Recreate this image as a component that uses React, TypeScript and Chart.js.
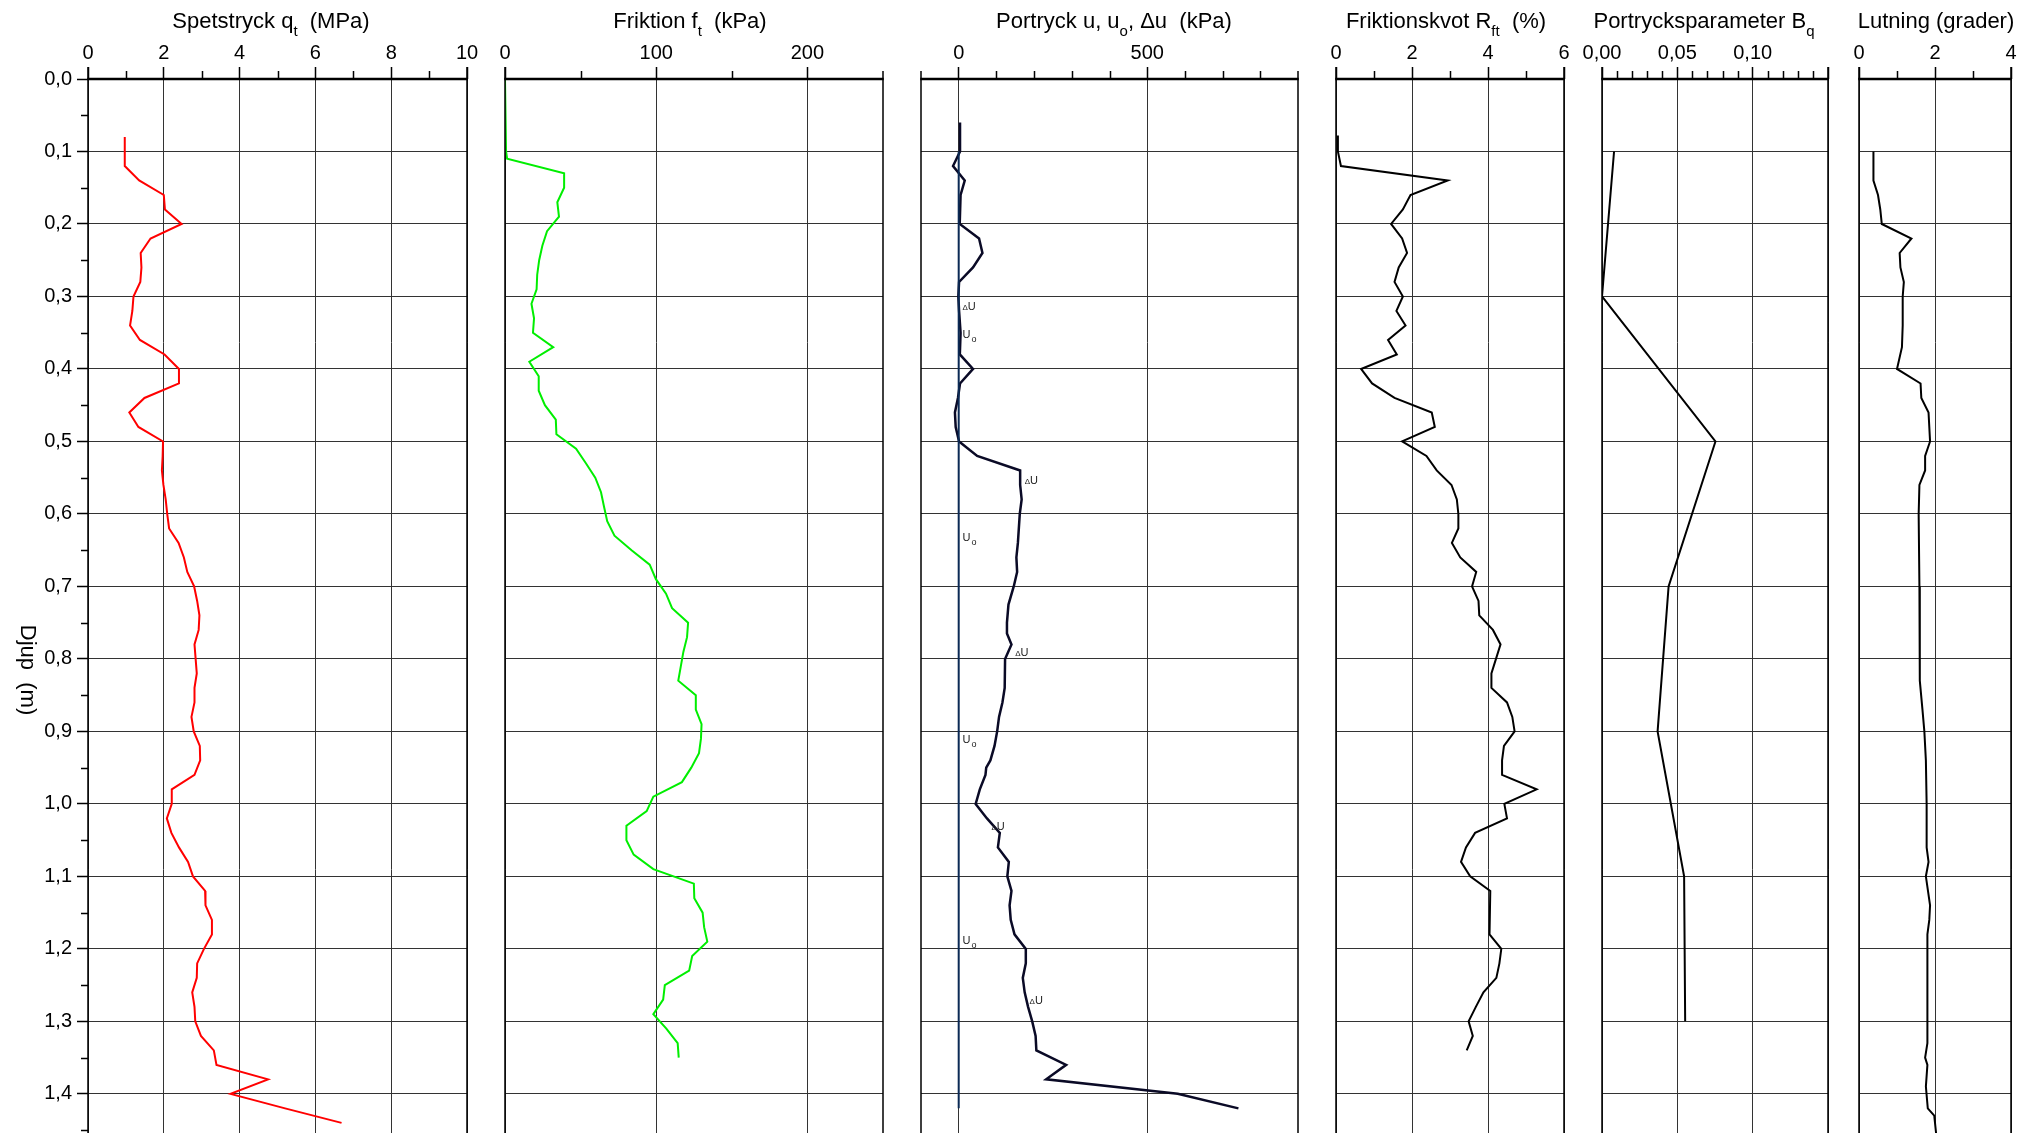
import React, { useEffect, useRef } from "react";
import { Chart, registerables } from "chart.js";
Chart.register(...registerables);

const W = 2031;
const H = 1133;
const TOP = 79;
const DEPTH_MAX = 1.454;
const FONT = "'Liberation Sans', Arial, sans-serif";

// ---------- data ----------
const depthTicks = [0, 0.1, 0.2, 0.3, 0.4, 0.5, 0.6, 0.7, 0.8, 0.9, 1.0, 1.1, 1.2, 1.3, 1.4];
const depthMinor = [0.05, 0.15, 0.25, 0.35, 0.45, 0.55, 0.65, 0.75, 0.85, 0.95, 1.05, 1.15, 1.25, 1.35, 1.45];

const qtDepth = [0.08, 0.12, 0.14, 0.16, 0.18, 0.2, 0.22, 0.24, 0.26, 0.28, 0.3, 0.32, 0.34, 0.36, 0.38, 0.4, 0.42, 0.44, 0.46, 0.48, 0.5, 0.52, 0.54, 0.56, 0.58, 0.6, 0.62, 0.64, 0.66, 0.68, 0.7, 0.72, 0.74, 0.76, 0.78, 0.8, 0.82, 0.84, 0.86, 0.88, 0.9, 0.92, 0.94, 0.96, 0.98, 1.0, 1.02, 1.04, 1.06, 1.08, 1.1, 1.12, 1.14, 1.16, 1.18, 1.2, 1.22, 1.24, 1.26, 1.28, 1.3, 1.32, 1.34, 1.36, 1.38, 1.4, 1.42, 1.44];
const qtMPa = [0.97, 0.97, 1.35, 2.0, 2.03, 2.47, 1.65, 1.39, 1.41, 1.38, 1.2, 1.17, 1.11, 1.37, 2.02, 2.4, 2.4, 1.49, 1.09, 1.33, 1.98, 1.97, 1.95, 1.99, 2.05, 2.09, 2.14, 2.39, 2.53, 2.62, 2.8, 2.88, 2.94, 2.92, 2.81, 2.84, 2.87, 2.81, 2.81, 2.73, 2.79, 2.95, 2.96, 2.81, 2.21, 2.21, 2.08, 2.2, 2.4, 2.64, 2.77, 3.09, 3.1, 3.27, 3.27, 3.06, 2.88, 2.87, 2.75, 2.81, 2.83, 2.98, 3.32, 3.39, 4.75, 3.76, 5.2, 6.69];

const ftDepth = [0.0, 0.1, 0.11, 0.13, 0.15, 0.17, 0.19, 0.21, 0.23, 0.25, 0.27, 0.29, 0.31, 0.33, 0.35, 0.37, 0.39, 0.41, 0.43, 0.45, 0.47, 0.49, 0.51, 0.53, 0.55, 0.57, 0.59, 0.61, 0.63, 0.65, 0.67, 0.69, 0.71, 0.73, 0.75, 0.77, 0.79, 0.81, 0.83, 0.85, 0.87, 0.89, 0.91, 0.93, 0.95, 0.97, 0.99, 1.01, 1.03, 1.05, 1.07, 1.09, 1.11, 1.13, 1.15, 1.17, 1.19, 1.21, 1.23, 1.25, 1.27, 1.29, 1.31, 1.33, 1.35];
const ftKPa = [0, 0.7, 1.4, 39.1, 39.1, 34.6, 35.7, 27.8, 24.7, 22.6, 21.3, 20.9, 17.5, 19.2, 18.5, 31.9, 16.1, 22.3, 22.3, 26.4, 33.6, 34.0, 47.0, 53.5, 59.7, 63.5, 65.5, 67.6, 72.4, 83.7, 95.7, 99.8, 106.5, 110.5, 121.1, 120.4, 118.0, 116.3, 114.6, 126.2, 126.2, 130.0, 129.6, 128.3, 123.2, 117.0, 98.1, 93.7, 80.3, 80.3, 85.1, 98.1, 124.9, 125.2, 130.7, 131.7, 133.8, 123.8, 121.8, 105.7, 104.6, 98.1, 106.7, 114.2, 114.9];

const uDepth = [0.06, 0.1, 0.12, 0.14, 0.16, 0.2, 0.22, 0.24, 0.26, 0.28, 0.3, 0.32, 0.35, 0.38, 0.4, 0.42, 0.44, 0.46, 0.48, 0.5, 0.52, 0.54, 0.56, 0.58, 0.6, 0.64, 0.66, 0.68, 0.7, 0.725, 0.75, 0.765, 0.78, 0.8, 0.84, 0.86, 0.88, 0.9, 0.92, 0.94, 0.95, 0.96, 0.98, 1.0, 1.02, 1.04, 1.06, 1.08, 1.1, 1.12, 1.14, 1.16, 1.18, 1.2, 1.22, 1.24, 1.26, 1.28, 1.3, 1.32, 1.34, 1.36, 1.38, 1.4, 1.42];
const uKPa = [3.5, 3.5, -15, 16, 5, 2.7, 54, 63, 38, 1, -1, 1, 5, 3, 38, 3.5, -2, -10, -8, 1, 49, 163, 163, 167, 162, 157, 153, 155, 146, 132, 128, 128, 140, 123, 122, 116, 107, 102, 95, 84, 73, 71, 56, 45, 75, 109, 104, 133, 129, 140, 135, 138, 148, 178, 178, 170, 175, 184, 195, 204, 206, 285, 232, 581, 742];
const u0Depth = [0.1, 1.42];
const u0KPa = [0, 0];

const duLabelDepth = [0.313, 0.553, 0.791, 1.031, 1.271];
const duLabelKPa = [10, 175, 150, 87, 188];
const uoLabelDepth = [0.354, 0.634, 0.913, 1.191];
const uoLabelKPa = [10, 10, 10, 10];

const rfDepth = [0.078, 0.1, 0.12, 0.14, 0.16, 0.18, 0.2, 0.22, 0.24, 0.26, 0.28, 0.3, 0.32, 0.34, 0.36, 0.38, 0.4, 0.42, 0.44, 0.46, 0.48, 0.5, 0.52, 0.54, 0.56, 0.58, 0.6, 0.62, 0.64, 0.66, 0.68, 0.7, 0.72, 0.74, 0.76, 0.78, 0.8, 0.82, 0.84, 0.86, 0.88, 0.9, 0.92, 0.94, 0.96, 0.98, 1.0, 1.02, 1.04, 1.06, 1.08, 1.1, 1.12, 1.18, 1.2, 1.22, 1.24, 1.26, 1.28, 1.3, 1.32, 1.34];
const rfPct = [0.05, 0.05, 0.13, 2.94, 1.96, 1.76, 1.45, 1.74, 1.87, 1.65, 1.54, 1.76, 1.59, 1.83, 1.37, 1.6, 0.66, 0.95, 1.54, 2.52, 2.6, 1.74, 2.38, 2.65, 3.04, 3.18, 3.22, 3.22, 3.05, 3.27, 3.69, 3.58, 3.75, 3.77, 4.13, 4.33, 4.21, 4.09, 4.09, 4.5, 4.64, 4.7, 4.42, 4.37, 4.37, 5.28, 4.43, 4.5, 3.66, 3.42, 3.29, 3.53, 4.06, 4.04, 4.35, 4.3, 4.22, 3.88, 3.68, 3.49, 3.6, 3.44];

const bqDepth = [0.1, 0.3, 0.5, 0.7, 0.9, 1.1, 1.3];
const bqValue = [0.008, 0.0, 0.0753, 0.0442, 0.0369, 0.0545, 0.0552];

const lutDepth = [0.1, 0.14, 0.16, 0.18, 0.2, 0.22, 0.24, 0.26, 0.28, 0.3, 0.34, 0.37, 0.4, 0.42, 0.44, 0.46, 0.5, 0.52, 0.54, 0.56, 0.6, 0.7, 0.8, 0.83, 0.87, 0.9, 0.94, 1.0, 1.06, 1.08, 1.1, 1.14, 1.16, 1.18, 1.3, 1.33, 1.35, 1.36, 1.39, 1.42, 1.43, 1.46];
const lutDeg = [0.38, 0.38, 0.5, 0.56, 0.6, 1.38, 1.07, 1.09, 1.18, 1.15, 1.15, 1.13, 1.0, 1.62, 1.64, 1.83, 1.87, 1.74, 1.74, 1.59, 1.57, 1.59, 1.6, 1.6, 1.67, 1.72, 1.76, 1.78, 1.78, 1.83, 1.76, 1.87, 1.85, 1.8, 1.8, 1.8, 1.74, 1.8, 1.76, 1.81, 1.98, 2.04];

// tick values per panel
const qtMajor = [0, 2, 4, 6, 8, 10];
const qtMinor = [1, 3, 5, 7, 9];
const ftMajor = [0, 100, 200];
const ftMinor = [50, 150];
const uMajor = [0, 500];
const uMinor = [100, 200, 300, 400, 600, 700, 800];
const rfMajor = [0, 2, 4, 6];
const rfMinor = [1, 3, 5];
const bqMajor = [0, 0.05, 0.1, 0.15];
const bqMinor = [0.01, 0.02, 0.03, 0.04, 0.06, 0.07, 0.08, 0.09, 0.11, 0.12, 0.13, 0.14];
const lutMajor = [0, 2, 4];
const lutMinor = [1, 3];

// titles (text, subscript flag)
const qtTitle: [string, boolean][] = [["Spetstryck q", false], ["t", true], ["  (MPa)", false]];
const ftTitle: [string, boolean][] = [["Friktion f", false], ["t", true], ["  (kPa)", false]];
const uTitle: [string, boolean][] = [["Portryck u, u", false], ["o", true], [", \u0394u  (kPa)", false]];
const rfTitle: [string, boolean][] = [["Friktionskvot R", false], ["ft", true], ["  (%)", false]];
const bqTitle: [string, boolean][] = [["Portrycksparameter B", false], ["q", true]];
const lutTitle: [string, boolean][] = [["Lutning (grader)", false]];
const yTitle = "Djup  (m)";

const zip = (d: number[], v: number[]) => d.map((y, i) => ({ x: v[i], y }));

type Series = { data: { x: number; y: number }[]; color: string; width: number };
type Panel = {
  left: number; right: number; min: number; max: number;
  majors: number[]; minors: number[]; hidden: number[];
  fmt: (v: number) => string; title: [string, boolean][]; titleCenter: number;
  series: Series[]; notes?: boolean;
};

const intFmt = (v: number) => String(v);
const PANELS: Panel[] = [
  { left: 88, right: 467, min: 0, max: 10, majors: qtMajor, minors: qtMinor, hidden: [], fmt: intFmt, title: qtTitle, titleCenter: 271,
    series: [{ data: zip(qtDepth, qtMPa), color: "#ff0000", width: 2 }] },
  { left: 505, right: 883, min: 0, max: 250, majors: ftMajor, minors: ftMinor, hidden: [], fmt: intFmt, title: ftTitle, titleCenter: 690,
    series: [{ data: zip(ftDepth, ftKPa), color: "#00ee00", width: 2 }] },
  { left: 921, right: 1298, min: -100, max: 900, majors: uMajor, minors: uMinor, hidden: [], fmt: intFmt, title: uTitle, titleCenter: 1114,
    series: [
      { data: zip(u0Depth, u0KPa), color: "#0b2a55", width: 2 },
      { data: zip(uDepth, uKPa), color: "#0a0a26", width: 2.5 },
    ], notes: true },
  { left: 1336, right: 1564, min: 0, max: 6, majors: rfMajor, minors: rfMinor, hidden: [], fmt: intFmt, title: rfTitle, titleCenter: 1446,
    series: [{ data: zip(rfDepth, rfPct), color: "#000000", width: 2 }] },
  { left: 1602, right: 1828, min: 0, max: 0.15, majors: bqMajor, minors: bqMinor, hidden: [0.15],
    fmt: (v: number) => v.toFixed(2).replace(".", ","), title: bqTitle, titleCenter: 1704,
    series: [{ data: zip(bqDepth, bqValue), color: "#000000", width: 2 }] },
  { left: 1859, right: 2011, min: 0, max: 4, majors: lutMajor, minors: lutMinor, hidden: [], fmt: intFmt, title: lutTitle, titleCenter: 1936,
    series: [{ data: zip(lutDepth, lutDeg), color: "#000000", width: 2 }] },
];

function decor(p: Panel, first: boolean) {
  return {
    id: "decor",
    afterDraw(chart: any) {
      const ctx: CanvasRenderingContext2D = chart.ctx;
      const a = chart.chartArea;
      const xs = chart.scales.x;
      const ys = chart.scales.y;
      ctx.save();
      ctx.strokeStyle = "#000";
      ctx.lineWidth = 1.5;
      ctx.beginPath();
      for (const v of p.minors) {
        const px = Math.round(xs.getPixelForValue(v)) + 0.5;
        ctx.moveTo(px, a.top - 8);
        ctx.lineTo(px, a.top);
      }
      const lExt = p.majors.includes(p.min) ? 12 : 8;
      const rExt = p.majors.includes(p.max) ? 12 : 8;
      ctx.moveTo(a.left, a.top - lExt);
      ctx.lineTo(a.left, a.bottom);
      ctx.moveTo(a.right, a.top - rExt);
      ctx.lineTo(a.right, a.bottom);
      if (first) {
        for (const v of depthMinor) {
          const py = Math.round(ys.getPixelForValue(v)) + 0.5;
          ctx.moveTo(a.left - 7, py);
          ctx.lineTo(a.left, py);
        }
      }
      ctx.stroke();
      ctx.lineWidth = 2.5;
      ctx.beginPath();
      ctx.moveTo(a.left - 0.75, a.top);
      ctx.lineTo(a.right + 0.75, a.top);
      ctx.stroke();

      // title
      ctx.fillStyle = "#000";
      ctx.textBaseline = "alphabetic";
      ctx.textAlign = "left";
      const mainFont = `22px ${FONT}`;
      const subFont = `15px ${FONT}`;
      let total = 0;
      for (const [t, sub] of p.title) {
        ctx.font = sub ? subFont : mainFont;
        total += ctx.measureText(t).width;
      }
      let cx = p.titleCenter - total / 2;
      for (const [t, sub] of p.title) {
        ctx.font = sub ? subFont : mainFont;
        ctx.fillText(t, cx, sub ? 36 : 28);
        cx += ctx.measureText(t).width;
      }

      if (first) {
        ctx.save();
        ctx.translate(27, 670);
        ctx.rotate(Math.PI / 2);
        ctx.font = mainFont;
        ctx.textAlign = "center";
        ctx.textBaseline = "middle";
        ctx.fillText(yTitle, 0, 0);
        ctx.restore();
      }

      if (p.notes) {
        ctx.fillStyle = "#222";
        ctx.textAlign = "left";
        ctx.textBaseline = "alphabetic";
        duLabelDepth.forEach((d, i) => {
          const px = xs.getPixelForValue(duLabelKPa[i]);
          const py = ys.getPixelForValue(d) + 4;
          ctx.font = `8px ${FONT}`;
          ctx.fillText("\u0394", px, py);
          const w = ctx.measureText("\u0394").width;
          ctx.font = `11px ${FONT}`;
          ctx.fillText("U", px + w, py);
        });
        uoLabelDepth.forEach((d, i) => {
          const px = xs.getPixelForValue(uoLabelKPa[i]);
          const py = ys.getPixelForValue(d) + 2;
          ctx.font = `11px ${FONT}`;
          ctx.fillText("U", px, py);
          const w = ctx.measureText("U").width;
          ctx.font = `9px ${FONT}`;
          ctx.fillText("o", px + w + 1, py + 4);
        });
      }
      ctx.restore();
    },
  };
}

function makeConfig(p: Panel, first: boolean): any {
  return {
    type: "scatter",
    data: {
      datasets: p.series.map((s) => ({
        data: s.data,
        showLine: true,
        borderColor: s.color,
        backgroundColor: s.color,
        borderWidth: s.width,
        pointRadius: 0,
        fill: false,
        tension: 0,
      })),
    },
    options: {
      animation: false,
      responsive: false,
      maintainAspectRatio: false,
      events: [],
      layout: { padding: { left: first ? 0 : p.left, right: W - p.right, top: 0, bottom: 0 } },
      plugins: { legend: { display: false }, tooltip: { enabled: false }, title: { display: false } },
      scales: {
        x: {
          type: "linear",
          position: "top",
          min: p.min,
          max: p.max,
          afterBuildTicks: (s: any) => { s.ticks = p.majors.map((v) => ({ value: v })); },
          afterFit: (s: any) => { s.height = TOP; s.paddingLeft = 0; s.paddingRight = 0; },
          ticks: {
            autoSkip: false,
            maxRotation: 0,
            padding: 2,
            color: "#000",
            font: { family: FONT, size: 20 },
            callback: (v: number) => (p.hidden.includes(v) ? "" : p.fmt(v)),
          },
          grid: { color: "#333", lineWidth: 1, drawTicks: true, tickLength: 12, tickColor: "#000", tickWidth: 1.5 },
          border: { display: false },
        },
        y: {
          type: "linear",
          reverse: true,
          min: 0,
          max: DEPTH_MAX,
          afterBuildTicks: (s: any) => { s.ticks = depthTicks.map((v) => ({ value: v })); },
          afterFit: (s: any) => { s.width = first ? p.left : 0; s.paddingTop = 0; s.paddingBottom = 0; },
          ticks: {
            display: first,
            autoSkip: false,
            padding: 5,
            color: "#000",
            font: { family: FONT, size: 20 },
            callback: (v: number) => v.toFixed(1).replace(".", ","),
          },
          grid: { color: "#333", lineWidth: 1, drawTicks: first, tickLength: 11, tickColor: "#000", tickWidth: 1.5 },
          border: { display: false },
        },
      },
    },
    plugins: [decor(p, first)],
  };
}

export default function App() {
  const refs = useRef<(HTMLCanvasElement | null)[]>([]);
  useEffect(() => {
    const charts = PANELS.map((p, i) => new Chart(refs.current[i] as HTMLCanvasElement, makeConfig(p, i === 0)));
    return () => charts.forEach((c) => c.destroy());
  }, []);
  return (
    <div style={{ position: "absolute", left: 0, top: 0, width: W, height: H, background: "#fff", overflow: "hidden" }}>
      {PANELS.map((_, i) => (
        <canvas
          key={i}
          ref={(el) => { refs.current[i] = el; }}
          width={W}
          height={H}
          style={{ position: "absolute", left: 0, top: 0, width: W, height: H }}
        />
      ))}
    </div>
  );
}
